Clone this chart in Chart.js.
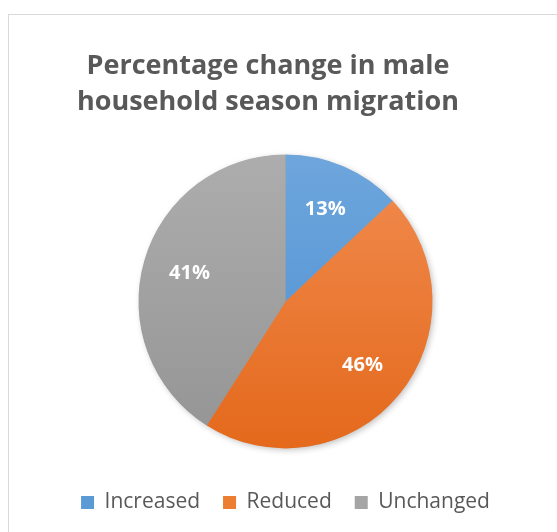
<!DOCTYPE html>
<html>
<head>
<meta charset="utf-8">
<script src="https://cdn.jsdelivr.net/npm/chart.js@4/dist/chart.umd.min.js"></script>
<style>
html,body{margin:0;padding:0;background:#fff;width:557px;height:532px;overflow:hidden;}
#frame{position:absolute;left:8px;top:14px;width:570px;height:540px;border:1px solid #d9d9d9;box-sizing:border-box;}
#wrap{position:absolute;left:0;top:0;width:557px;height:532px;}
</style>
</head>
<body>
<div id="frame"></div>
<div id="wrap"><canvas id="c" width="557" height="532"></canvas></div>
<script>
const titleLines = ["Percentage change in male", "household season migration"];
const categories = ["Increased", "Reduced", "Unchanged"];
const values = [13, 46, 41];
const valueLabels = ["13%", "46%", "41%"];
const colorsTop = ["#6ea6dc", "#f18c50", "#adadad"];
const colorsBottom = ["#4a8ed2", "#e4691c", "#949494"];
const legendColors = ["#5b9bd5", "#ed7d31", "#a5a5a5"];

const FONT = "'Open Sans', 'DejaVu Sans', sans-serif";
const PAD = "\u00a0\u00a0\u00a0\u00a0\u00a0";

function grad(ctx, i) {
  const chart = ctx.chart;
  const a = chart.chartArea;
  if (!a) return legendColors[i];
  const cy = (a.top + a.bottom) / 2;
  const g = chart.ctx.createLinearGradient(0, cy - 147, 0, cy + 147);
  g.addColorStop(0, colorsTop[i]);
  g.addColorStop(1, colorsBottom[i]);
  return g;
}

const labelPlugin = {
  id: 'sliceLabels',
  beforeDatasetsDraw(chart) {
    const c = chart.ctx;
    c.save();
    c.shadowColor = 'rgba(0,0,0,0.25)';
    c.shadowBlur = 6;
    c.shadowOffsetX = 2;
    c.shadowOffsetY = 2;
    const meta = chart.getDatasetMeta(0);
    const arc0 = meta.data[0];
    c.beginPath();
    c.arc(arc0.x, arc0.y, arc0.outerRadius - 0.5, 0, Math.PI * 2);
    c.fillStyle = '#999';
    c.fill();
    c.restore();
  },
  afterDatasetsDraw(chart) {
    const c = chart.ctx;
    const meta = chart.getDatasetMeta(0);
    c.save();
    c.fillStyle = '#ffffff';
    c.font = "bold 20px " + FONT;
    c.textAlign = 'center';
    c.textBaseline = 'middle';
    meta.data.forEach((arc, i) => {
      const mid = (arc.startAngle + arc.endAngle) / 2;
      const r = arc.outerRadius * 0.68;
      c.fillText(valueLabels[i], arc.x + Math.cos(mid) * r, arc.y + Math.sin(mid) * r);
    });
    c.restore();
  }
};

new Chart(document.getElementById('c'), {
  type: 'pie',
  data: {
    labels: categories,
    datasets: [{
      data: values,
      radius: 147,
      backgroundColor: (ctx) => grad(ctx, ctx.dataIndex),
      borderWidth: 0
    }]
  },
  options: {
    responsive: false,
    animation: false,
    events: [],
    layout: { padding: { left: 14, right: 0, top: 0, bottom: 9 } },
    plugins: {
      tooltip: { enabled: false },
      title: {
        display: true,
        text: titleLines.map(t => t + PAD),
        color: '#595959',
        font: { family: FONT, size: 27, weight: 'bold', lineHeight: 1.33 },
        padding: { top: 48, bottom: 14 }
      },
      legend: {
        display: true,
        position: 'bottom',
        labels: {
          color: '#595959',
          font: { family: FONT, size: 21 },
          boxWidth: 13,
          boxHeight: 13,
          padding: 23,
          generateLabels: (chart) => categories.map((name, i) => ({
            text: name,
            fillStyle: legendColors[i],
            strokeStyle: legendColors[i],
            lineWidth: 0,
            index: i,
            fontColor: '#595959'
          }))
        }
      }
    }
  },
  plugins: [labelPlugin]
});
</script>
</body>
</html>
